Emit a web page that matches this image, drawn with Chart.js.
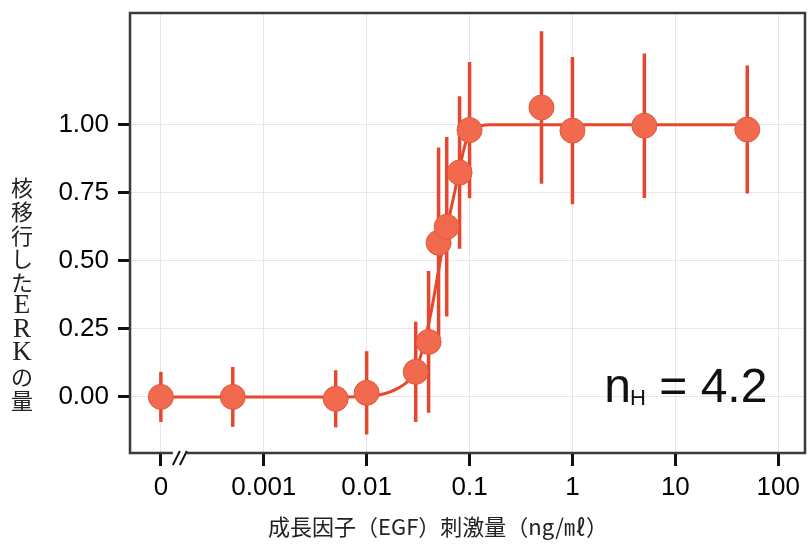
<!DOCTYPE html>
<html>
<head>
<meta charset="utf-8">
<script src="https://cdn.jsdelivr.net/npm/chart.js@4/dist/chart.umd.min.js"></script>
<style>
  html, body { margin: 0; padding: 0; background: #ffffff; }
  #wrap { width: 808px; height: 545px; }
</style>
</head>
<body>
<div id="wrap"><canvas id="c" width="808" height="545"></canvas></div>
<script>
// ---- data ----
const doses = [0, 0.0005, 0.005, 0.01, 0.03, 0.04, 0.05, 0.06, 0.08, 0.1, 0.5, 1, 5, 50];
const means = [0.0, 0.0, -0.007, 0.015, 0.092, 0.202, 0.566, 0.625, 0.824, 0.98, 1.063, 0.978, 0.996, 0.982];
const errors = [0.092, 0.11, 0.105, 0.153, 0.184, 0.26, 0.35, 0.33, 0.28, 0.25, 0.28, 0.27, 0.265, 0.235];

// fitted Hill curve
const fitDoses = [0, 0.0063, 0.0135, 0.0209, 0.0263, 0.0316, 0.0417, 0.0537, 0.0724, 0.0912, 0.112, 0.158, 50];
const fitValues = [0, 0, 0.008, 0.035, 0.065, 0.12, 0.30, 0.53, 0.76, 0.93, 0.985, 1.0, 1.0];

const xTickValues = [0, 0.001, 0.01, 0.1, 1, 10, 100];
const xTickLabels = ['0', '0.001', '0.01', '0.1', '1', '10', '100'];
const yTickValues = [0, 0.25, 0.5, 0.75, 1.0];

const xTitle = '成長因子（EGF）刺激量（ng/㎖）';
const yTitle = '核移行したERKの量';
const hillMain = 'n';
const hillSub = 'H';
const hillRest = ' = 4.2';

// zero dose is drawn one decade left of 0.001 (axis break)
const ZERO_POS = -4;
function toAxis(v) { return v === 0 ? ZERO_POS : Math.log10(v); }

const pointData = doses.map((d, i) => ({ x: toAxis(d), y: means[i] }));
const fitData = fitDoses.map((d, i) => ({ x: toAxis(d), y: fitValues[i] }));
const xTickPos = xTickValues.map(toAxis);

const RED = '#E8472F';
const FILL = '#F26A4E';
const SANS = '"Liberation Sans", Arial, sans-serif';

const decorPlugin = {
  id: 'decor',
  beforeDatasetDraw(chart, args) {
    if (args.index !== 1) return;
    const ctx = chart.ctx, xs = chart.scales.x, ys = chart.scales.y;
    ctx.save();
    ctx.strokeStyle = RED;
    ctx.lineWidth = 3.5;
    ctx.lineCap = 'butt';
    doses.forEach((d, i) => {
      const px = xs.getPixelForValue(toAxis(d));
      ctx.beginPath();
      ctx.moveTo(px, ys.getPixelForValue(means[i] - errors[i]));
      ctx.lineTo(px, ys.getPixelForValue(means[i] + errors[i]));
      ctx.stroke();
    });
    ctx.restore();
  },
  afterDraw(chart) {
    const ctx = chart.ctx, a = chart.chartArea, xs = chart.scales.x, ys = chart.scales.y;
    ctx.save();
    // frame
    ctx.strokeStyle = '#3a3a3a';
    ctx.lineWidth = 2.5;
    ctx.strokeRect(a.left, a.top, a.right - a.left, a.bottom - a.top);
    // axis break mark
    const bx = xs.getPixelForValue(ZERO_POS) + 12;
    ctx.strokeStyle = '#111';
    ctx.lineWidth = 2;
    ctx.fillStyle = '#fff';
    ctx.fillRect(bx, a.bottom - 3, 14, 6);
    for (let k = 0; k < 2; k++) {
      ctx.beginPath();
      ctx.moveTo(bx + k * 7, a.bottom + 12);
      ctx.lineTo(bx + 7 + k * 7, a.bottom - 2);
      ctx.stroke();
    }
    // y title (vertical, upright characters)
    ctx.fillStyle = '#222';
    ctx.textAlign = 'center';
    ctx.textBaseline = 'middle';
    const chars = Array.from(yTitle);
    chars.forEach((ch, i) => {
      ctx.font = /[A-Za-z]/.test(ch) ? '27px "Liberation Serif", serif' : '22px "Noto Sans CJK JP"';
      ctx.fillText(ch, 22, 188 + i * 23.6);
    });
    // x title
    ctx.font = '22px "Noto Sans CJK JP"';
    ctx.fillText(xTitle, 438, 527);
    // Hill coefficient annotation
    ctx.textAlign = 'left';
    ctx.textBaseline = 'alphabetic';
    ctx.fillStyle = '#111';
    let tx = xs.getPixelForValue(0.31);
    const ty = ys.getPixelForValue(-0.02);
    ctx.font = '48px ' + SANS;
    ctx.fillText(hillMain, tx, ty);
    tx += ctx.measureText(hillMain).width - 1;
    ctx.font = '22px ' + SANS;
    ctx.fillText(hillSub, tx, ty + 3);
    tx += ctx.measureText(hillSub).width;
    ctx.font = '48px ' + SANS;
    ctx.fillText(hillRest, tx, ty);
    ctx.restore();
  }
};

new Chart(document.getElementById('c'), {
  type: 'scatter',
  data: {
    datasets: [
      {
        type: 'line',
        data: fitData,
        borderColor: RED,
        borderWidth: 3,
        pointRadius: 0,
        fill: false,
        cubicInterpolationMode: 'monotone',
        order: 2
      },
      {
        type: 'scatter',
        data: pointData,
        backgroundColor: FILL,
        borderColor: '#E2573C',
        borderWidth: 1,
        pointRadius: 12.5,
        pointHoverRadius: 12.5,
        order: 1
      }
    ]
  },
  options: {
    responsive: false,
    animation: false,
    events: [],
    layout: { autoPadding: false, padding: { top: 13, right: 3, left: 0, bottom: 0 } },
    plugins: { legend: { display: false }, tooltip: { enabled: false } },
    scales: {
      x: {
        type: 'linear',
        min: -4.3,
        max: 2.26,
        afterBuildTicks: s => { s.ticks = xTickPos.map(v => ({ value: v })); },
        afterFit: s => { s.height = 92; s.paddingLeft = 0; s.paddingRight = 0; },
        border: { display: false },
        grid: { color: '#E6E6EC', lineWidth: 1, tickColor: '#111', tickWidth: 3, tickLength: 13 },
        ticks: {
          color: '#000',
          padding: 6,
          maxRotation: 0,
          autoSkip: false,
          font: { family: SANS, size: 26 },
          callback: v => { const i = xTickPos.indexOf(v); return i >= 0 ? xTickLabels[i] : ''; }
        }
      },
      y: {
        type: 'linear',
        min: -0.206,
        max: 1.41,
        afterBuildTicks: s => { s.ticks = yTickValues.map(v => ({ value: v })); },
        afterFit: s => { s.width = 130; s.paddingTop = 0; s.paddingBottom = 0; },
        border: { display: false },
        grid: { color: '#E6E6EC', lineWidth: 1, tickColor: '#111', tickWidth: 3, tickLength: 12 },
        ticks: {
          color: '#000',
          padding: 9,
          font: { family: SANS, size: 26 },
          callback: v => v.toFixed(2)
        }
      }
    }
  },
  plugins: [decorPlugin]
});
</script>
</body>
</html>
